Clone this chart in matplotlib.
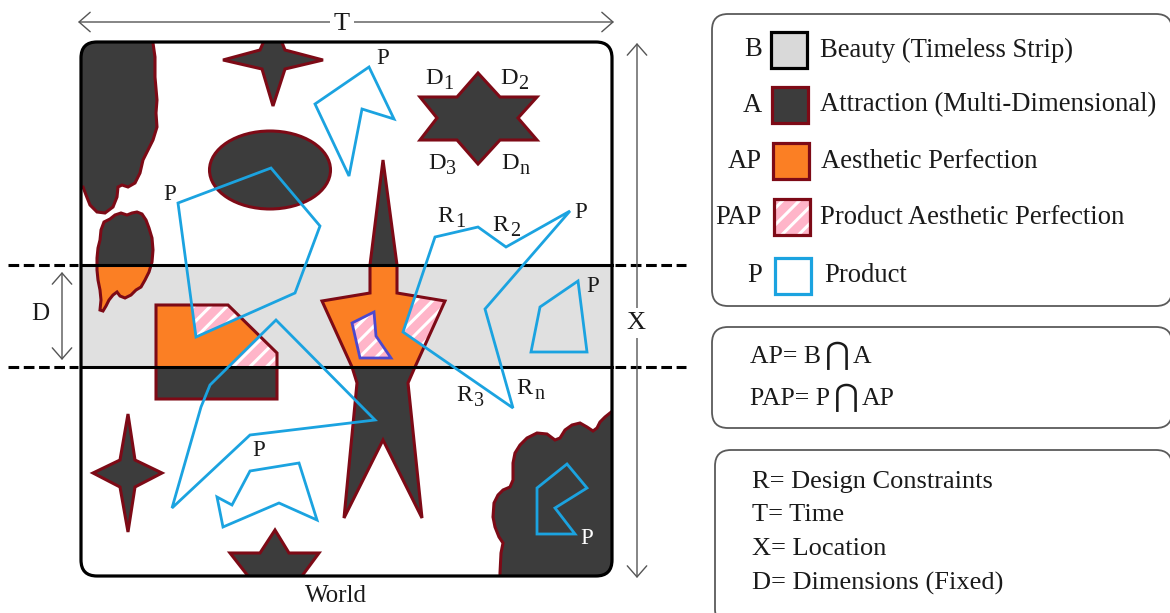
import matplotlib
matplotlib.use('Agg')
import matplotlib.pyplot as plt
from matplotlib.patches import Polygon, Ellipse, Rectangle, FancyBboxPatch, FancyArrowPatch
from matplotlib.transforms import Bbox, TransformedBbox

plt.rcParams['font.family'] = ['Liberation Serif', 'DejaVu Serif', 'DejaVu Sans']
plt.rcParams['hatch.linewidth'] = 2.2

DARK = '#3c3c3c'
MAROON = '#7d0a16'
ORANGE = '#fb7f24'
PINK = '#ffb5c9'
BLUE = '#1ba3e0'
VIOLET = '#4b48cf'
GREY_STRIP = '#e0e0e0'
INK = '#1a1a1a'

# world frame and the timeless strip (pixel space of the original drawing)
WORLD = (81, 42, 612, 576)
STRIP_Y = (265, 367)

# ── Attraction shapes (A) ──────────────────────────────────────────────────
blob_top = [(153, 43), (155, 57), (155, 77), (157, 100), (156, 113), (157, 127),
            (153, 140), (148, 150), (143, 160), (140, 173), (135, 183), (128, 187),
            (122, 185), (118, 187), (117, 197), (113, 207), (105, 213), (97, 212),
            (90, 205), (86, 195), (83, 187), (70, 187), (70, 30), (153, 30)]
blob_small = [(100, 240), (101, 230), (104, 222), (110, 219), (115, 215), (121, 213),
              (127, 215), (132, 213), (137, 212), (142, 214), (146, 220), (149, 228),
              (152, 238), (153, 250), (152, 262), (149, 272), (145, 280), (141, 287),
              (136, 290), (131, 295), (125, 298), (120, 296), (117, 292), (113, 295),
              (109, 300), (106, 306), (103, 311), (100, 310), (101, 300), (100, 290),
              (98, 280), (97, 270), (97, 258), (98, 248)]
star4_top = [(273, 20), (285, 50), (323, 60), (285, 69), (273, 106), (262, 69),
             (223, 60), (260, 50)]
ellipse_a = ((270, 170), 121, 78)
star6 = [(478, 73), (500, 97), (537, 97), (518, 118), (537, 140), (500, 140),
         (478, 164), (457, 140), (420, 140), (437, 118), (420, 97), (457, 97)]
pentagon = [(156, 305), (228, 305), (277, 353), (277, 399), (156, 399)]
big_star = [(383, 160), (397, 265), (397, 293), (445, 301), (415, 367), (408, 383),
            (422, 518), (383, 440), (344, 518), (357, 383), (352, 367), (322, 301),
            (370, 293), (370, 265)]
star4_bottom = [(128, 414), (135, 460), (162, 473), (135, 487), (128, 532), (120, 487),
                (93, 473), (120, 460)]
star5_bottom = [(275, 530), (289, 553), (319, 553), (302, 576), (312, 605), (275, 590),
                (238, 605), (248, 576), (230, 553), (260, 553)]
cloud = [(610, 413), (605, 417), (600, 422), (597, 428), (593, 431), (587, 427),
         (580, 423), (572, 425), (565, 430), (560, 438), (555, 440), (547, 434),
         (537, 433), (527, 438), (520, 445), (515, 453), (513, 463), (513, 480),
         (510, 487), (503, 490), (498, 495), (494, 503), (493, 517), (495, 527),
         (499, 537), (503, 543), (501, 553), (500, 573), (500, 585), (620, 585),
         (620, 405)]

# ── Products (P) ───────────────────────────────────────────────────────────
prod_top = [(315, 104), (369, 67), (394, 119), (362, 109), (349, 176)]
prod_big = [(178, 203), (271, 168), (320, 226), (295, 293), (196, 337)]
prod_low = [(172, 508), (201, 407), (210, 385), (276, 320), (375, 420), (250, 435)]
prod_r = [(435, 237), (478, 227), (506, 247), (570, 211), (485, 309), (513, 408), (403, 332)]
prod_strip = [(540, 307), (578, 281), (587, 352), (531, 352)]
prod_inner = [(352, 323), (374, 312), (376, 336), (391, 358), (360, 358)]
prod_small = [(250, 471), (299, 463), (317, 520), (279, 503), (223, 527), (217, 497), (232, 505)]
prod_cloud = [(537, 488), (567, 464), (587, 488), (555, 508), (575, 534), (537, 534)]

# legend
legend_keys = ['B', 'A', 'AP', 'PAP', 'P']
legend_names = ['Beauty (Timeless Strip)', 'Attraction (Multi-Dimensional)',
                'Aesthetic Perfection', 'Product Aesthetic Perfection', 'Product']
formula_left = ['AP= B', 'PAP= P']
formula_right = ['A', 'AP']
definitions = ['R= Design Constraints', 'T= Time', 'X= Location', 'D= Dimensions (Fixed)']


def main():
    fig = plt.figure(figsize=(11.7, 6.13), dpi=100)
    ax = fig.add_axes([0, 0, 1, 1])
    ax.set_xlim(0, 1170)
    ax.set_ylim(613, 0)
    ax.axis('off')

    x0, y0, x1, y1 = WORLD

    def world_patch(**kw):
        return FancyBboxPatch((x0, y0), x1 - x0, y1 - y0,
                              boxstyle='round,pad=0,rounding_size=16',
                              transform=ax.transData, **kw)

    world_clip = world_patch(fc='none', ec='none')
    ax.add_patch(world_patch(fc='white', ec='none', zorder=0))

    strip = Rectangle((x0, STRIP_Y[0]), x1 - x0, STRIP_Y[1] - STRIP_Y[0],
                      fc=GREY_STRIP, ec='none', zorder=1)
    ax.add_patch(strip)
    strip_box = TransformedBbox(Bbox([[x0, STRIP_Y[1]], [x1, STRIP_Y[0]]]), ax.transData)

    def a_patch(spec, **kw):
        if spec[0] == 'ellipse':
            return Ellipse(spec[1][0], spec[1][1], spec[1][2], transform=ax.transData, **kw)
        return Polygon(spec[1], closed=True, transform=ax.transData, **kw)

    shapes = [('poly', blob_top), ('poly', blob_small), ('poly', star4_top),
              ('ellipse', ellipse_a), ('poly', star6), ('poly', pentagon),
              ('poly', big_star), ('poly', star4_bottom), ('poly', star5_bottom),
              ('poly', cloud)]
    in_strip = [('poly', blob_small), ('poly', pentagon), ('poly', big_star)]

    for s in shapes:
        p = ax.add_patch(a_patch(s, fc=DARK, ec='none', zorder=2))
        p.set_clip_path(world_clip)
        e = ax.add_patch(a_patch(s, fc='none', ec=MAROON, lw=2.2, zorder=5))
        e.set_clip_path(world_clip)

    # AP = B ∩ A
    for s in in_strip:
        o = ax.add_patch(a_patch(s, fc=ORANGE, ec='none', zorder=3))
        o.set_clip_box(strip_box)

    products = [(prod_top, BLUE), (prod_big, BLUE), (prod_low, BLUE), (prod_r, BLUE),
                (prod_strip, BLUE), (prod_inner, VIOLET), (prod_small, BLUE),
                (prod_cloud, BLUE)]

    # PAP = P ∩ AP
    for verts, _ in products:
        for s in in_strip:
            h = ax.add_patch(Polygon(verts, closed=True, fc=PINK, ec='white', lw=0,
                                     hatch='//', zorder=4))
            h.set_clip_path(a_patch(s))
            h.set_clip_box(strip_box)

    for verts, col in products:
        ax.add_patch(Polygon(verts, closed=True, fc='none', ec=col, lw=2.0,
                             joinstyle='miter', zorder=7))

    # strip borders
    for y in STRIP_Y:
        ax.plot([x0, x1], [y, y], color='black', lw=2.2, zorder=6)
        ax.plot([8, x0 - 3], [y, y], color='black', lw=2.2, ls=(0, (3.5, 1.5)), zorder=6)
        ax.plot([x1 + 3, 686], [y, y], color='black', lw=2.2, ls=(0, (3.5, 1.5)), zorder=6)

    ax.add_patch(world_patch(fc='none', ec='black', lw=2.3, zorder=8))

    # dimension arrows
    arrow_kw = dict(arrowstyle='<->,head_length=8,head_width=7', color='#555555',
                    lw=1.0, shrinkA=0, shrinkB=0, mutation_scale=1, zorder=6)
    ax.add_patch(FancyArrowPatch((78, 22), (614, 22), **arrow_kw))
    ax.add_patch(FancyArrowPatch((637, 43), (637, 578), **arrow_kw))
    ax.add_patch(FancyArrowPatch((62, 272), (62, 360), **arrow_kw))
    box_w = dict(fc='white', ec='none', pad=3)
    ax.text(342, 24, 'T', fontsize=19, ha='center', va='center', color=INK,
            bbox=box_w, zorder=9)
    ax.text(636, 323, 'X', fontsize=19, ha='center', va='center', color=INK,
            bbox=box_w, zorder=9)
    ax.text(40, 314, 'D', fontsize=18, ha='center', va='center', color=INK, zorder=9)
    ax.text(336, 596, 'World', fontsize=18, ha='center', va='center', color=INK, zorder=9)

    # P labels
    for (x, y), col in [((383, 59), INK), ((170, 195), INK), ((581, 212), INK),
                        ((593, 287), INK), ((259, 451), INK), ((587, 538), 'white')]:
        ax.text(x, y, 'P', fontsize=16.5, ha='center', va='center', color=col, zorder=9)

    # subscripted labels: D for dimensions, R for constraints
    subs = [('D', '1', 425, 84), ('D', '2', 500, 84), ('D', '3', 428, 169),
            ('D', 'n', 501, 169), ('R', '1', 437, 222), ('R', '2', 492, 231),
            ('R', '3', 456, 401), ('R', 'n', 516, 394)]
    for main_txt, sub_txt, x, y in subs:
        ax.text(x, y, main_txt, fontsize=17.5, ha='left', va='baseline', color=INK, zorder=9)
        ax.text(x + 18, y + 5, sub_txt, fontsize=14.5, ha='left', va='baseline',
                color=INK, zorder=9)

    # ── legend boxes ──────────────────────────────────────────────────────
    for (bx0, by0, bx1, by1) in [(712, 14, 1172, 306), (712, 327, 1172, 428),
                                 (715, 450, 1172, 625)]:
        ax.add_patch(FancyBboxPatch((bx0, by0), bx1 - bx0, by1 - by0,
                                    boxstyle='round,pad=0,rounding_size=16',
                                    fc='white', ec='#5a5a5a', lw=1.3, zorder=1))

    rows_y = [50, 105, 161, 217, 276]
    sq_x = [771, 772, 773, 774, 775]
    text_x = [820, 820, 821, 820, 824]
    sq = 36
    for i, key in enumerate(legend_keys):
        y = rows_y[i]
        ax.text(762, y, key, fontsize=19.2, ha='right', va='center', color=INK, zorder=9)
        ax.text(text_x[i], y, legend_names[i], fontsize=19.2, ha='left', va='center',
                color=INK, zorder=9)
        r = (sq_x[i], y - sq / 2)
        if key == 'B':
            ax.add_patch(Rectangle(r, sq, sq, fc='#d9d9d9', ec='black', lw=2.3, zorder=3))
        elif key == 'A':
            ax.add_patch(Rectangle(r, sq, sq, fc=DARK, ec=MAROON, lw=2.3, zorder=3))
        elif key == 'AP':
            ax.add_patch(Rectangle(r, sq, sq, fc=ORANGE, ec=MAROON, lw=2.3, zorder=3))
        elif key == 'PAP':
            ax.add_patch(Rectangle(r, sq, sq, fc=PINK, ec='white', lw=0, hatch='//', zorder=3))
            ax.add_patch(Rectangle(r, sq, sq, fc='none', ec=MAROON, lw=2.3, zorder=4))
        else:
            ax.add_patch(Rectangle(r, sq, sq, fc='white', ec=BLUE, lw=2.3, zorder=3))

    # AP= B ⋂ A / PAP= P ⋂ AP with the tall intersection sign placed after the left part
    renderer = fig.canvas.get_renderer()
    inv = ax.transData.inverted()
    for left, right, y in zip(formula_left, formula_right, [357, 399]):
        t = ax.text(750, y, left, fontsize=18.5, ha='left', va='center', color=INK, zorder=9)
        x_end = inv.transform((t.get_window_extent(renderer).x1, 0))[0]
        ax.text(x_end + 16, y - 1, '\u22c2', fontsize=22, ha='center', va='center',
                color=INK, family='DejaVu Sans', zorder=9)
        ax.text(x_end + 32, y, right, fontsize=18.5, ha='left', va='center', color=INK,
                zorder=9)
    for txt, y in zip(definitions, [482, 515, 549, 583]):
        ax.text(752, y, txt, fontsize=19, ha='left', va='center', color=INK, zorder=9)

    fig.savefig('out.png', dpi=100)


if __name__ == '__main__':
    main()
